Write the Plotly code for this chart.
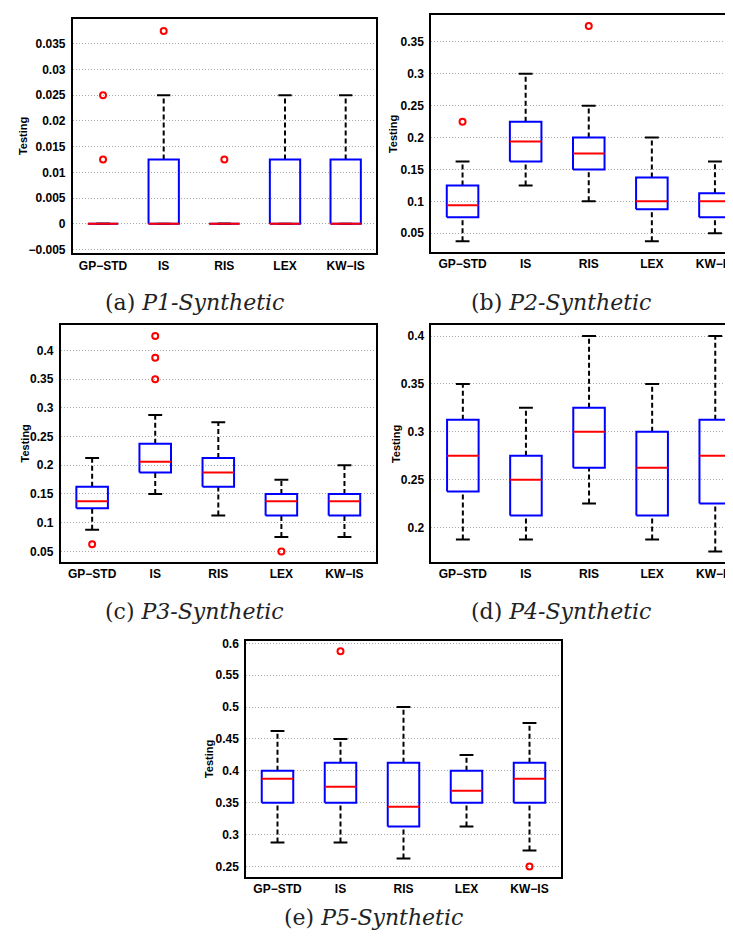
import plotly.graph_objects as go

# ---------------- data ----------------
categories = ["GP−STD", "IS", "RIS", "LEX", "KW−IS"]
positions = [1, 2, 3, 4, 5]

# P1-Synthetic
p1_low = [0, 0, 0, 0, 0]
p1_q1 = [0, 0, 0, 0, 0]
p1_med = [0, 0, 0, 0, 0]
p1_q3 = [0, 0.0125, 0, 0.0125, 0.0125]
p1_high = [0, 0.025, 0, 0.025, 0.025]
p1_out = [[0.0125, 0.025], [0.0375], [0.0125], [], []]

# P2-Synthetic
p2_low = [0.0375, 0.125, 0.1, 0.0375, 0.05]
p2_q1 = [0.075, 0.1625, 0.15, 0.0875, 0.075]
p2_med = [0.09375, 0.19375, 0.175, 0.1, 0.1]
p2_q3 = [0.125, 0.225, 0.2, 0.1375, 0.1125]
p2_high = [0.1625, 0.3, 0.25, 0.2, 0.1625]
p2_out = [[0.225], [], [0.375], [], []]

# P3-Synthetic
p3_low = [0.0875, 0.15, 0.1125, 0.075, 0.075]
p3_q1 = [0.125, 0.1875, 0.1625, 0.1125, 0.1125]
p3_med = [0.1375, 0.20625, 0.1875, 0.1375, 0.1375]
p3_q3 = [0.1625, 0.2375, 0.2125, 0.15, 0.15]
p3_high = [0.2125, 0.2875, 0.275, 0.175, 0.2]
p3_out = [[0.0625], [0.35, 0.3875, 0.425], [], [0.05], []]

# P4-Synthetic
p4_low = [0.1875, 0.1875, 0.225, 0.1875, 0.175]
p4_q1 = [0.2375, 0.2125, 0.2625, 0.2125, 0.225]
p4_med = [0.275, 0.25, 0.3, 0.2625, 0.275]
p4_q3 = [0.3125, 0.275, 0.325, 0.3, 0.3125]
p4_high = [0.35, 0.325, 0.4, 0.35, 0.4]
p4_out = [[], [], [], [], []]

# P5-Synthetic
p5_low = [0.2875, 0.2875, 0.2625, 0.3125, 0.275]
p5_q1 = [0.35, 0.35, 0.3125, 0.35, 0.35]
p5_med = [0.3875, 0.375, 0.34375, 0.36875, 0.3875]
p5_q3 = [0.4, 0.4125, 0.4125, 0.4, 0.4125]
p5_high = [0.4625, 0.45, 0.5, 0.425, 0.475]
p5_out = [[], [0.5875], [], [], [0.25]]

# tick labels
p1_ticks = [-0.005, 0, 0.005, 0.01, 0.015, 0.02, 0.025, 0.03, 0.035]
p1_ticktext = ["−0.005", "0", "0.005", "0.01", "0.015", "0.02", "0.025", "0.03", "0.035"]
p2_ticks = [0.05, 0.1, 0.15, 0.2, 0.25, 0.3, 0.35]
p2_ticktext = ["0.05", "0.1", "0.15", "0.2", "0.25", "0.3", "0.35"]
p3_ticks = [0.05, 0.1, 0.15, 0.2, 0.25, 0.3, 0.35, 0.4]
p3_ticktext = ["0.05", "0.1", "0.15", "0.2", "0.25", "0.3", "0.35", "0.4"]
p4_ticks = [0.2, 0.25, 0.3, 0.35, 0.4]
p4_ticktext = ["0.2", "0.25", "0.3", "0.35", "0.4"]
p5_ticks = [0.25, 0.3, 0.35, 0.4, 0.45, 0.5, 0.55, 0.6]
p5_ticktext = ["0.25", "0.3", "0.35", "0.4", "0.45", "0.5", "0.55", "0.6"]

captions = ["(a) <i>P1-Synthetic</i>", "(b) <i>P2-Synthetic</i>", "(c) <i>P3-Synthetic</i>",
            "(d) <i>P4-Synthetic</i>", "(e) <i>P5-Synthetic</i>"]
y_title = "Testing"

# ---------------- layout geometry (pixels) ----------------
W, H = 733, 938
panels = [
    dict(data=(p1_low, p1_q1, p1_med, p1_q3, p1_high, p1_out), ticks=(p1_ticks, p1_ticktext),
         box=(64.7, 368.0, 7.3, 243.3), yrange=(-0.0058, 0.0398),
         ylab=(15, 125), cap=(186, 293)),
    dict(data=(p2_low, p2_q1, p2_med, p2_q3, p2_high, p2_out), ticks=(p2_ticks, p2_ticktext),
         box=(423.0, 738.5, 3.3, 241.7), yrange=(0.020625, 0.391875),
         ylab=(385, 123), cap=(553, 293)),
    dict(data=(p3_low, p3_q1, p3_med, p3_q3, p3_high, p3_out), ticks=(p3_ticks, p3_ticktext),
         box=(52.6, 368.0, 315.7, 554.3), yrange=(0.03125, 0.44375),
         ylab=(16.7, 435), cap=(186, 604)),
    dict(data=(p4_low, p4_q1, p4_med, p4_q3, p4_high, p4_out), ticks=(p4_ticks, p4_ticktext),
         box=(423.3, 738.8, 315.7, 554.3), yrange=(0.16375, 0.41125),
         ylab=(387.3, 435), cap=(553, 604)),
    dict(data=(p5_low, p5_q1, p5_med, p5_q3, p5_high, p5_out), ticks=(p5_ticks, p5_ticktext),
         box=(238.0, 553.0, 633.3, 871.7), yrange=(0.233125, 0.604375),
         ylab=(201.7, 753), cap=(365, 912)),
]

BOX_HALF = 0.25
CAP_HALF = 0.11

fig = go.Figure()
layout = dict(width=W, height=H, margin=dict(l=0, r=0, t=0, b=0),
              paper_bgcolor="white", plot_bgcolor="white", showlegend=False)
annotations = []
tickfont = dict(family="Liberation Sans", size=12, color="black", weight="bold")

for i, p in enumerate(panels, start=1):
    low, q1, med, q3, high, outs = p["data"]
    xa = "x" if i == 1 else f"x{i}"
    ya = "y" if i == 1 else f"y{i}"

    # whiskers (dashed)
    wx, wy = [], []
    for x, a, b, c, d in zip(positions, low, q1, q3, high):
        wx += [x, x, None, x, x, None]
        wy += [c, d, None, a, b, None]
    fig.add_trace(go.Scatter(x=wx, y=wy, mode="lines", xaxis=xa, yaxis=ya,
                             line=dict(color="black", width=2, dash="5px,3px"), hoverinfo="skip"))
    # caps
    cx, cy = [], []
    for x, a, d in zip(positions, low, high):
        cx += [x - CAP_HALF, x + CAP_HALF, None, x - CAP_HALF, x + CAP_HALF, None]
        cy += [d, d, None, a, a, None]
    fig.add_trace(go.Scatter(x=cx, y=cy, mode="lines", xaxis=xa, yaxis=ya,
                             line=dict(color="black", width=2), hoverinfo="skip"))
    # boxes
    bx, by = [], []
    for x, b, c in zip(positions, q1, q3):
        bx += [x - BOX_HALF, x + BOX_HALF, x + BOX_HALF, x - BOX_HALF, x - BOX_HALF, None]
        by += [b, b, c, c, b, None]
    fig.add_trace(go.Scatter(x=bx, y=by, mode="lines", xaxis=xa, yaxis=ya,
                             line=dict(color="#0000ff", width=2), hoverinfo="skip"))
    # medians
    mx, my = [], []
    for x, m in zip(positions, med):
        mx += [x - BOX_HALF, x + BOX_HALF, None]
        my += [m, m, None]
    fig.add_trace(go.Scatter(x=mx, y=my, mode="lines", xaxis=xa, yaxis=ya,
                             line=dict(color="#ff0000", width=2), hoverinfo="skip"))
    # outliers
    ox, oy = [], []
    for x, vals in zip(positions, outs):
        for v in vals:
            ox.append(x)
            oy.append(v)
    fig.add_trace(go.Scatter(x=ox, y=oy, mode="markers", xaxis=xa, yaxis=ya,
                             marker=dict(symbol="circle-open", color="#ff0000", size=6,
                                         line=dict(width=2, color="#ff0000")),
                             hoverinfo="skip"))

    l, r, t, b = p["box"]
    r_clip = min(r, W)
    x_end = 0.5 + 5.0 * (r_clip - l) / (r - l)
    clipped = r > W
    layout["xaxis" if i == 1 else f"xaxis{i}"] = dict(
        domain=[l / W, r_clip / W], range=[0.5, x_end], anchor=ya,
        tickvals=positions, ticktext=[f"<b>{c}</b>" for c in categories], tickfont=tickfont,
        showgrid=False, zeroline=False, showline=True, linecolor="black", linewidth=1.5,
        mirror=True, ticks="", fixedrange=True)
    layout["yaxis" if i == 1 else f"yaxis{i}"] = dict(
        domain=[1 - b / H, 1 - t / H], range=list(p["yrange"]), anchor=xa,
        tickvals=p["ticks"][0], ticktext=[f"<b>{s}</b>" for s in p["ticks"][1]], tickfont=tickfont,
        showgrid=True, gridcolor="#a8a8a8", gridwidth=1, griddash="1px,2px",
        zeroline=False, showline=True, linecolor="black", linewidth=1.5,
        mirror=not clipped, ticks="", ticklabelstandoff=3, fixedrange=True)

    annotations.append(dict(text=f"<b>{y_title}</b>", x=p["ylab"][0] / W, y=1 - p["ylab"][1] / H,
                            xref="paper", yref="paper", showarrow=False, textangle=-90,
                            xanchor="center", yanchor="middle",
                            font=dict(family="Liberation Sans", size=11, color="black")))
    annotations.append(dict(text=captions[i - 1], x=p["cap"][0] / W, y=1 - p["cap"][1] / H,
                            xref="paper", yref="paper", showarrow=False,
                            xanchor="center", yanchor="middle",
                            font=dict(family="DejaVu Serif", size=22, color="#222222")))

layout["annotations"] = annotations
fig.update_layout(**layout)
fig.write_html("out.html")
